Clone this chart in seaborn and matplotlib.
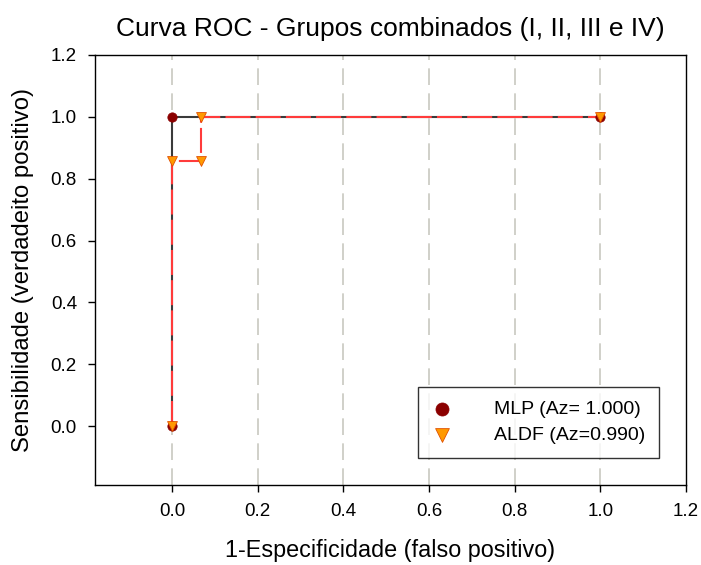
import matplotlib
matplotlib.use("Agg")
import matplotlib.pyplot as plt
import seaborn as sns
import pandas as pd

# ROC curve points for each classifier
mlp_fpr = [0.0, 0.0, 1.0]
mlp_tpr = [0.0, 1.0, 1.0]
aldf_fpr = [0.0, 0.0, 0.067, 0.067, 1.0]
aldf_tpr = [0.0, 0.857, 0.857, 1.0, 1.0]
mlp_label = "MLP (Az= 1.000)"
aldf_label = "ALDF (Az=0.990)"
ticks = [0.0, 0.2, 0.4, 0.6, 0.8, 1.0, 1.2]

sns.set_theme(style="ticks")
plt.rcParams["font.family"] = ["Liberation Sans", "DejaVu Sans"]
plt.rcParams["text.color"] = "black"
plt.rcParams["axes.labelcolor"] = "black"

mlp = pd.DataFrame({"fpr": mlp_fpr, "tpr": mlp_tpr})
aldf = pd.DataFrame({"fpr": aldf_fpr, "tpr": aldf_tpr})

fig = plt.figure(figsize=(7.01, 5.65), dpi=100)
ax = fig.add_axes([95 / 701, 1 - 485 / 565, (686 - 95) / 701, (485 - 55) / 565])

for x in [0.0, 0.2, 0.4, 0.6, 0.8, 1.0]:
    ax.axvline(x, color="#c8c8c0", lw=1.2, dashes=(10, 5), zorder=0)

sns.lineplot(data=mlp, x="fpr", y="tpr", sort=False, estimator=None,
             color="#3a3a3a", lw=1.5, ax=ax, zorder=2)
sns.lineplot(data=aldf, x="fpr", y="tpr", sort=False, estimator=None,
             color="#ff3b3b", lw=1.5, dashes=False, ax=ax, zorder=3)
ax.lines[-1].set_dashes((12, 2.5))

sns.scatterplot(data=mlp, x="fpr", y="tpr", marker="o", s=45,
                color="#8b0000", edgecolor="#8b0000", ax=ax, zorder=4,
                label=mlp_label)
sns.scatterplot(data=aldf, x="fpr", y="tpr", marker="v", s=50,
                color="#ff9900", edgecolor="#e05000", linewidth=0.6, ax=ax,
                zorder=5, label=aldf_label)

ax.set_xlim(-0.18, 1.2)
ax.set_ylim(-0.19, 1.2)
ax.set_xticks(ticks)
ax.set_yticks(ticks)
ax.set_xticklabels([f"{t:.1f}" for t in ticks], fontsize=13.5)
ax.set_yticklabels([f"{t:.1f}" for t in ticks], fontsize=13.5)
ax.tick_params(direction="out", length=5, width=1, colors="black", pad=8)
for s in ax.spines.values():
    s.set_color("black")
    s.set_linewidth(1)

ax.set_xlabel("1-Especificidade (falso positivo)", fontsize=16.8, labelpad=14)
ax.set_ylabel("Sensibilidade (verdadeito positivo)", fontsize=17.2, labelpad=12)
ax.set_title("Curva ROC - Grupos combinados (I, II, III e IV)", fontsize=19, pad=14)

leg = ax.legend(loc="lower right", bbox_to_anchor=(0.955, 0.063), fontsize=14,
                frameon=True, fancybox=False, edgecolor="black",
                handlelength=1.0, handletextpad=2.2, borderpad=0.72,
                markerscale=1.4, labelspacing=0.42, borderaxespad=0)
leg.get_frame().set_linewidth(1)

fig.savefig("out.png", dpi=100)
